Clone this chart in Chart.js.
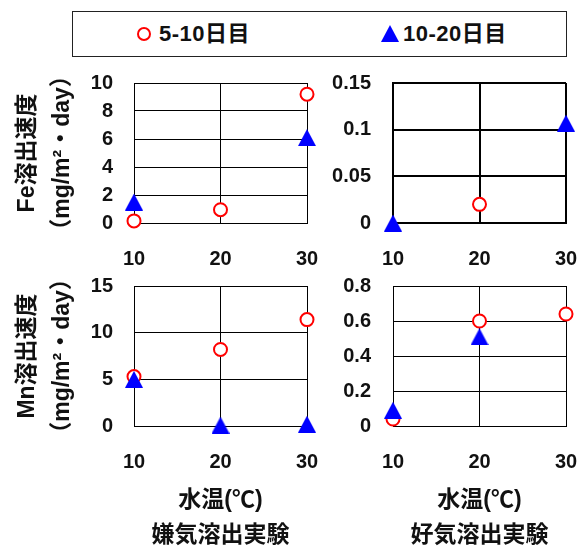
<!DOCTYPE html>
<html>
<head>
<meta charset="utf-8">
<script src="https://cdn.jsdelivr.net/npm/chart.js@4"></script>
<style>
  html, body { margin: 0; padding: 0; background: #fff; overflow: hidden; }
  body { width: 584px; height: 548px; position: relative; font-family: "Liberation Sans", "Noto Sans CJK JP", sans-serif; }
  canvas.plot { position: absolute; }
  #legend { position: absolute; left: 72px; top: 11px; width: 495px; height: 46px; box-sizing: border-box; border: 1.5px solid #222; }
  .lg { position: absolute; top: 0; line-height: 43px; font-size: 22px; letter-spacing: 0.5px; font-weight: bold; color: #111; white-space: nowrap; }
  .lg svg { position: absolute; top: 14px; }
</style>
</head>
<body>
<div id="legend">
  <span class="lg" style="left:63px"><svg width="16" height="16" style="left:0"><circle cx="8" cy="8" r="6" fill="#fff" stroke="#f00" stroke-width="2"/></svg><span style="margin-left:23px">5-10日目</span></span>
  <span class="lg" style="left:308px"><svg width="18" height="17" style="left:0;top:13px"><polygon points="9,0 18,17 0,17" fill="#00f"/></svg><span style="margin-left:22px">10-20日目</span></span>
</div>
<canvas class="plot" id="feAnaerobic" width="330" height="215" style="left:0;top:60px"></canvas>
<canvas class="plot" id="feAerobic" width="254" height="215" style="left:330px;top:60px"></canvas>
<canvas class="plot" id="mnAnaerobic" width="330" height="280" style="left:0;top:275px"></canvas>
<canvas class="plot" id="mnAerobic" width="254" height="280" style="left:330px;top:275px"></canvas>
<script>
// 水温 (℃)
const temps = [10, 20, 30];

// Fe 溶出速度 (mg/m2・day)
const feAnaerobic5to10 = [0.15, 0.95, 9.2];
const feAnaerobic10to20 = [1.5, null, 6.1];
const feAerobic5to10 = [null, 0.02, null];
const feAerobic10to20 = [0, null, 0.107];

// Mn 溶出速度 (mg/m2・day)
const mnAnaerobic5to10 = [5.3, 8.2, 11.4];
const mnAnaerobic10to20 = [5.0, 0.1, 0.2];
const mnAerobic5to10 = [0.04, 0.6, 0.64];
const mnAerobic10to20 = [0.09, 0.51, null];

const FONT = '"Liberation Sans", "Noto Sans CJK JP", sans-serif';

// 三角マーカー（外接矩形の中心を点に合わせる）
const tri = document.createElement('canvas');
tri.width = 18; tri.height = 17;
const tctx = tri.getContext('2d');
tctx.fillStyle = '#0000ff';
tctx.beginPath();
tctx.moveTo(9, 0); tctx.lineTo(18, 17); tctx.lineTo(0, 17);
tctx.closePath(); tctx.fill();

function toPoints(vals) {
    return temps.map((t, i) => ({ x: t, y: vals[i] })).filter(p => p.y !== null);
}

function makeChart(id, opt) {
    const lw = opt.lineWidth || 1;
    const yScale = {
        min: opt.yMin, max: opt.yMax,
        ticks: {
            stepSize: opt.yStep, padding: opt.yPad, autoSkip: false, color: '#111',
            font: { family: FONT, size: 20, weight: 'bold' },
            callback: v => String(Number(v.toFixed(3)))
        },
        grid: { color: '#000', lineWidth: lw, drawTicks: false },
        border: { color: '#000', width: lw },
        afterFit: s => { s.width = opt.yWidth; s.paddingTop = 0; s.paddingBottom = 0; }
    };
    if (opt.yTitle) {
        yScale.title = {
            display: true, text: opt.yTitle, color: '#111',
            font: { family: FONT, size: 23, weight: 'bold', lineHeight: 1.52 },
            padding: { top: 10, bottom: 0 }
        };
    }
    const xScale = {
        type: 'linear', min: 10, max: 30,
        ticks: { stepSize: 10, padding: 24, autoSkip: false, color: '#111', font: { family: FONT, size: 20, weight: 'bold' } },
        grid: { color: '#000', lineWidth: lw, drawTicks: false },
        border: { color: '#000', width: lw },
        afterFit: s => { s.height = opt.xHeight; s.paddingLeft = 0; s.paddingRight = 0; }
    };
    if (opt.xTitle) {
        xScale.title = {
            display: true, text: opt.xTitle, color: '#111',
            font: { family: FONT, size: 23, weight: 'bold', lineHeight: 1.52 },
            padding: { top: 0, bottom: 2 }
        };
    }
    return new Chart(document.getElementById(id), {
        type: 'scatter',
        data: {
            datasets: [{
                label: '10-20日目',
                data: toPoints(opt.tri),
                pointStyle: tri,
                order: 0,
                clip: false
            }, {
                label: '5-10日目',
                data: toPoints(opt.circ),
                pointStyle: 'circle',
                pointRadius: 6.5,
                borderWidth: 2,
                borderColor: '#ff0000',
                backgroundColor: '#ffffff',
                order: 1,
                clip: false
            }]
        },
        options: {
            responsive: false,
            animation: false,
            layout: { autoPadding: false, padding: { top: opt.padTop, right: opt.padRight, left: 0, bottom: 0 } },
            plugins: { legend: { display: false }, tooltip: { enabled: false } },
            scales: { x: xScale, y: yScale }
        }
    });
}

makeChart('feAnaerobic', {
    circ: feAnaerobic5to10, tri: feAnaerobic10to20,
    yMin: 0, yMax: 10, yStep: 2, yPad: 21, yWidth: 134, xHeight: 52,
    padTop: 23, padRight: 23,
    yTitle: ['Fe溶出速度', '（mg/m²・day）']
});
makeChart('feAerobic', {
    circ: feAerobic5to10, tri: feAerobic10to20,
    yMin: 0, yMax: 0.15, yStep: 0.05, yPad: 22, yWidth: 63, xHeight: 52,
    padTop: 23, padRight: 18, lineWidth: 2
});
makeChart('mnAnaerobic', {
    circ: mnAnaerobic5to10, tri: mnAnaerobic10to20,
    yMin: 0, yMax: 15, yStep: 5, yPad: 21, yWidth: 134, xHeight: 129,
    padTop: 11, padRight: 23,
    yTitle: ['Mn溶出速度', '（mg/m²・day）'],
    xTitle: ['水温(℃)', '嫌気溶出実験']
});
makeChart('mnAerobic', {
    circ: mnAerobic5to10, tri: mnAerobic10to20,
    yMin: 0, yMax: 0.8, yStep: 0.2, yPad: 22, yWidth: 63, xHeight: 129,
    padTop: 11, padRight: 18,
    xTitle: ['水温(℃)', '好気溶出実験']
});
</script>
</body>
</html>
